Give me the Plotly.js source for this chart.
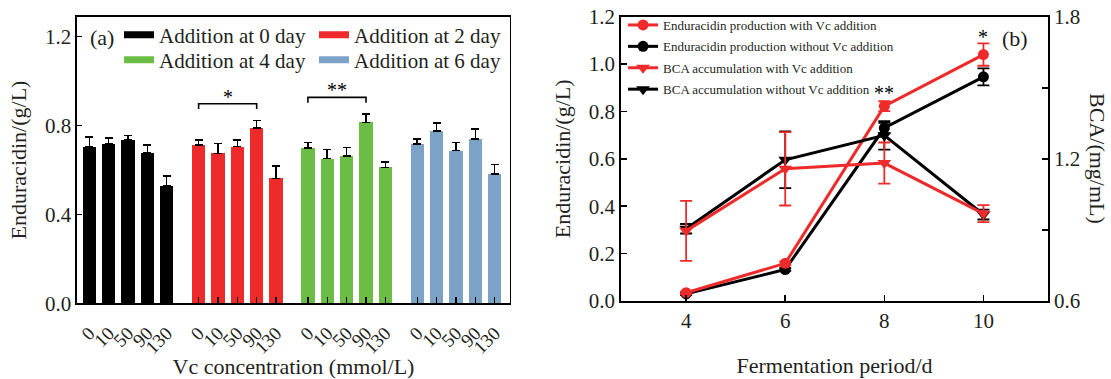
<!DOCTYPE html>
<html><head><meta charset="utf-8">
<script src="https://cdn.plot.ly/plotly-3.0.1.min.js"></script>
<style>html,body{margin:0;padding:0;background:#fff}#chart{width:1111px;height:379px}</style>
</head><body><div id="chart"></div>
<script>
// ---------- Panel (a) data ----------
const vcLabels = ['0', '10', '50', '90', '130'];
const groupNames = ['Addition at 0 day', 'Addition at 2 day', 'Addition at 4 day', 'Addition at 6 day'];
const day0 = [0.705, 0.717, 0.736, 0.677, 0.528];
const day0Err = [0.043, 0.026, 0.019, 0.036, 0.046];
const day2 = [0.713, 0.675, 0.705, 0.790, 0.562];
const day2Err = [0.023, 0.045, 0.030, 0.033, 0.055];
const day4 = [0.698, 0.651, 0.663, 0.814, 0.612];
const day4Err = [0.025, 0.041, 0.039, 0.038, 0.024];
const day6 = [0.717, 0.775, 0.687, 0.739, 0.583];
const day6Err = [0.023, 0.036, 0.036, 0.045, 0.041];
const sigGroups = [1, 2];
const sigFrom = [0, 0];
const sigTo = [3, 3];
const sigText = ['*', '**'];

// ---------- Panel (b) data ----------
const days = [4, 6, 8, 10];
const enduWithVc = [0.035, 0.159, 0.822, 1.040];
const enduWithVcErr = [0.005, 0.008, 0.021, 0.047];
const enduWithoutVc = [0.030, 0.133, 0.730, 0.946];
const enduWithoutVcErr = [0.005, 0.006, 0.022, 0.036];
const bcaWithVc = [0.896, 1.158, 1.182, 0.969];
const bcaWithVcErr = [0.127, 0.155, 0.087, 0.036];
const bcaWithoutVc = [0.905, 1.196, 1.299, 0.965];
const bcaWithoutVcErr = [0.020, 0.120, 0.060, 0.021];
const sigBDays = [8, 10];
const sigBText = ['**', '*'];
const sigBLevel = [0.901, 1.136];

// ---------- styling ----------
const FONT = 'Liberation Serif, Times New Roman, serif';
const TXT = '#231f20';
const RED = '#EE2A2A';
const colors = ['#000000', RED, '#6CBD45', '#7DA2C8'];
const GROUP_STEP = 5.65;

const groupVals = [day0, day2, day4, day6];
const groupErrs = [day0Err, day2Err, day4Err, day6Err];
const pos = (g, i) => g * GROUP_STEP + i;

const traces = [];
const tickvals = [], ticktext = [];
groupVals.forEach((vals, g) => {
  const xs = vals.map((_, i) => pos(g, i));
  xs.forEach((x, i) => { tickvals.push(x); ticktext.push(vcLabels[i]); });
  traces.push({
    type: 'bar', x: xs, y: vals, width: 0.69, xaxis: 'x', yaxis: 'y',
    marker: {color: colors[g], line: {width: 0}}, showlegend: false, hoverinfo: 'skip',
    error_y: {type: 'data', array: groupErrs[g], arrayminus: vals.map(() => 0), symmetric: false,
              color: '#000', thickness: 1.6, width: 4}
  });
});
// legend swatches for panel (a)
groupNames.forEach((name, g) => {
  traces.push({
    type: 'scatter', mode: 'lines', x: [null], y: [null], xaxis: 'x', yaxis: 'y',
    name: name, line: {color: colors[g], width: 7}, legend: g < 2 ? 'legend' : 'legend2'
  });
});

// panel (b)
function lineTrace(y, err, color, symbol, size, yaxis, name, rank) {
  return {
    type: 'scatter', mode: 'lines+markers', x: days, y: y, xaxis: 'x2', yaxis: yaxis,
    name: name, legend: 'legend3', legendrank: rank, legendgroup: 'g' + rank,
    line: {color: color, width: 3},
    marker: {color: color, symbol: symbol, size: size},
    error_y: {type: 'data', array: err, color: color, thickness: 1.8, width: 6}
  };
}
traces.push(lineTrace(enduWithoutVc, enduWithoutVcErr, '#000', 'circle', 11, 'y2', 'Enduracidin production without Vc addition', 2));
traces.push(lineTrace(enduWithVc, enduWithVcErr, RED, 'circle', 11, 'y2', 'Enduracidin production with Vc addition', 1));
traces.push(lineTrace(bcaWithoutVc, bcaWithoutVcErr, '#000', 'triangle-down', 12, 'y3', 'BCA accumulation without Vc addition', 4));
traces.push(lineTrace(bcaWithVc, bcaWithVcErr, RED, 'triangle-down', 12, 'y3', 'BCA accumulation with Vc addition', 3));

// significance brackets panel (a)
const shapes = [];
const annotations = [];
sigGroups.forEach((g, k) => {
  const x0 = pos(g, sigFrom[k]), x1 = pos(g, sigTo[k]);
  let top = 0;
  for (let i = sigFrom[k]; i <= sigTo[k]; i++) top = Math.max(top, groupVals[g][i] + groupErrs[g][i]);
  const yb = top + 0.075, yl = yb - 0.024;
  shapes.push({type: 'path', xref: 'x', yref: 'y',
    path: `M${x0},${yl} L${x0},${yb} L${x1},${yb} L${x1},${yl}`,
    line: {color: '#000', width: 1.6}});
  annotations.push({xref: 'x', yref: 'y', x: (x0 + x1) / 2, y: yb, text: sigText[k],
    showarrow: false, yanchor: 'bottom', yshift: -6, font: {family: FONT, size: 20, color: '#000'}});
});
sigBDays.forEach((d, k) => {
  annotations.push({xref: 'x2', yref: 'y2', x: d, y: sigBLevel[k], text: sigBText[k],
    showarrow: false, yanchor: 'middle', yshift: -5, font: {family: FONT, size: 20, color: '#000'}});
});
annotations.push({xref: 'paper', yref: 'paper', x: 0.0918, y: 0.9005, text: '(a)', showarrow: false,
  xanchor: 'center', yanchor: 'middle', font: {family: FONT, size: 22, color: TXT}});
annotations.push({xref: 'paper', yref: 'paper', x: 0.9140, y: 0.8997, text: '(b)', showarrow: false,
  xanchor: 'center', yanchor: 'middle', font: {family: FONT, size: 22, color: TXT}});
annotations.push({xref: 'paper', yref: 'paper', x: 0.9883, y: 0.583, text: 'BCA/(mg/mL)', showarrow: false,
  xanchor: 'center', yanchor: 'middle', textangle: 90, font: {family: FONT, size: 22, color: TXT}});

const axBase = {
  showline: true, linecolor: '#000', linewidth: 1.5, ticks: 'inside', tickcolor: '#000',
  tickwidth: 1.5, showgrid: false, zeroline: false, tickfont: {family: FONT, size: 21, color: TXT}
};

const layout = {
  width: 1111, height: 379, margin: {l: 0, r: 0, t: 0, b: 0},
  paper_bgcolor: '#fff', plot_bgcolor: 'rgba(0,0,0,0)',
  font: {family: FONT, color: TXT},
  bargap: 0, barmode: 'overlay',
  xaxis: Object.assign({}, axBase, {
    domain: [0.0693, 0.459], range: [-0.636, 21.74], tickmode: 'array', tickvals: tickvals, ticktext: ticktext,
    tickangle: -45, ticklen: 6, mirror: true, ticklabelstandoff: 10, tickfont: {family: FONT, size: 19, color: TXT},
    title: {text: 'Vc concentration (mmol/L)', standoff: 2, font: {family: FONT, size: 22, color: TXT}}
  }),
  yaxis: Object.assign({}, axBase, {
    domain: [0.1997, 0.956], range: [0, 1.29], tickmode: 'array', tickvals: [0, 0.4, 0.8, 1.2],
    tickformat: '.1f', ticklen: 5, mirror: true,
    title: {text: 'Enduracidin/(g/L)', standoff: 12, font: {family: FONT, size: 22, color: TXT}}
  }),
  xaxis2: Object.assign({}, axBase, {
    domain: [0.5587, 0.9436], anchor: 'y2', range: [2.68, 11.31], tickmode: 'array', tickvals: days,
    ticklen: 6, mirror: true,
    title: {text: 'Fermentation period/d', standoff: 26, font: {family: FONT, size: 22, color: TXT}}
  }),
  yaxis2: Object.assign({}, axBase, {
    domain: [0.2058, 0.956], anchor: 'x2', range: [0, 1.2], dtick: 0.2, tickformat: '.1f', ticklen: 6,
    title: {text: 'Enduracidin/(g/L)', standoff: 12, font: {family: FONT, size: 22, color: TXT}}
  }),
  yaxis3: Object.assign({}, axBase, {
    overlaying: 'y2', side: 'right', anchor: 'x2', range: [0.6, 1.8], tickmode: 'array',
    tickvals: [0.6, 0.9, 1.2, 1.5, 1.8], ticktext: ['0.6', '', '1.2', '', '1.8'], ticklen: 6
  }),
  legend: {x: 0.1071, y: 0.9077, xanchor: 'left', yanchor: 'middle', orientation: 'h',
    entrywidth: 150, bgcolor: 'rgba(0,0,0,0)', font: {family: FONT, size: 21, color: TXT}},
  legend2: {x: 0.1071, y: 0.8417, xanchor: 'left', yanchor: 'middle', orientation: 'h',
    entrywidth: 150, bgcolor: 'rgba(0,0,0,0)', font: {family: FONT, size: 21, color: TXT}},
  legend3: {x: 0.5608, y: 0.9736, xanchor: 'left', yanchor: 'top', orientation: 'v',
    bgcolor: 'rgba(0,0,0,0)', tracegroupgap: 1.5, font: {family: FONT, size: 13, color: TXT}},
  shapes: shapes, annotations: annotations
};

Plotly.newPlot('chart', traces, layout, {displayModeBar: false, staticPlot: true});
</script>
</body></html>
